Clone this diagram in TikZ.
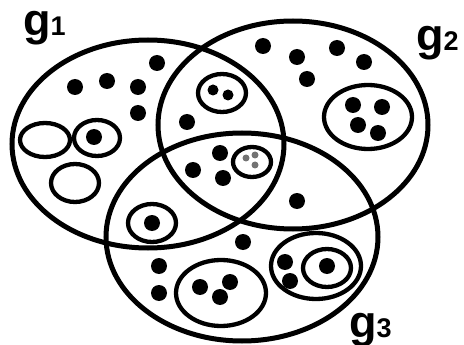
\documentclass[tikz,border=0pt]{standalone}
\usepackage{fontspec}
\setmainfont{Liberation Sans}
\usetikzlibrary{positioning}

\begin{document}
\begin{tikzpicture}[
    x=1pt, y=-1pt, % pixel-like units, y pointing down
    bigset/.style={line width=5pt}, % Style for the three groups
    subset/.style={line width=4.3pt}, % Style for inner rings
    dot/.style={fill=black}, % Style for elements
    grouplabel/.style={inner sep=0pt, anchor=base west, font=\bfseries} % Style for g labels
]
    \useasboundingbox (0,0) rectangle (464,345);

    % Centres of the three groups
    \coordinate (G1) at (148,144);
    \coordinate (G2) at (293,125);
    \coordinate (G3) at (242,237);

    % The three groups
    \draw[bigset] (G1) ellipse [x radius=136, y radius=104];
    \draw[bigset] (G2) ellipse [x radius=135, y radius=104];
    \draw[bigset] (G3) ellipse [x radius=136, y radius=104];

    % Inner rings
    \draw[subset] (45,140) ellipse [x radius=25, y radius=17];   % empty, left
    \draw[subset] (97,138) ellipse [x radius=23, y radius=18];   % with one dot
    \draw[subset] (75,183) ellipse [x radius=24, y radius=19];   % empty, lower
    \draw[subset] (222,93) ellipse [x radius=24, y radius=19];   % g1 and g2
    \draw[subset] (252,162) ellipse [x radius=19, y radius=15];  % all three
    \draw[subset] (368,117) ellipse [x radius=44, y radius=32];  % g2
    \draw[subset] (152,223) ellipse [x radius=24, y radius=19];  % g1 and g3
    \draw[subset] (316,266) ellipse [x radius=45, y radius=33];  % g3, outer
    \draw[subset] (327,268) ellipse [x radius=24, y radius=19];  % g3, inner
    \draw[subset] (221,293) ellipse [x radius=45, y radius=33];  % g3, lower

    % Elements
    \foreach \x/\y in {75/87, 107/81, 138/87, 157/63, 138/113, 187/122,
        263/46, 297/57, 307/79, 337/48, 364/62, 94/137,
        220/153, 193/170, 223/178, 297/201, 152/223,
        159/266, 159/293, 243/242,
        353/105, 382/107, 358/125, 378/133,
        285/262, 290/281, 327/266,
        200/287, 230/282, 220/297} {
        \fill[dot] (\x,\y) circle (8);
    }
    \foreach \x/\y in {213/90, 228/95} {
        \fill[dot] (\x,\y) circle (5.5);
    }
    \foreach \x/\y in {246/158, 255/155, 255/165} {
        \fill[black!55] (\x,\y) circle (3.5);
    }

    % Labels
    \node[grouplabel] (g1) at (23,36) {\fontsize{45}{45}\selectfont g\fontsize{27}{27}\selectfont 1};
    \node[grouplabel] (g2) at (416,51) {\fontsize{45}{45}\selectfont g\fontsize{27}{27}\selectfont 2};
    \node[grouplabel] (g3) at (349,337) {\fontsize{45}{45}\selectfont g\fontsize{27}{27}\selectfont 3};

\end{tikzpicture}
\end{document}
